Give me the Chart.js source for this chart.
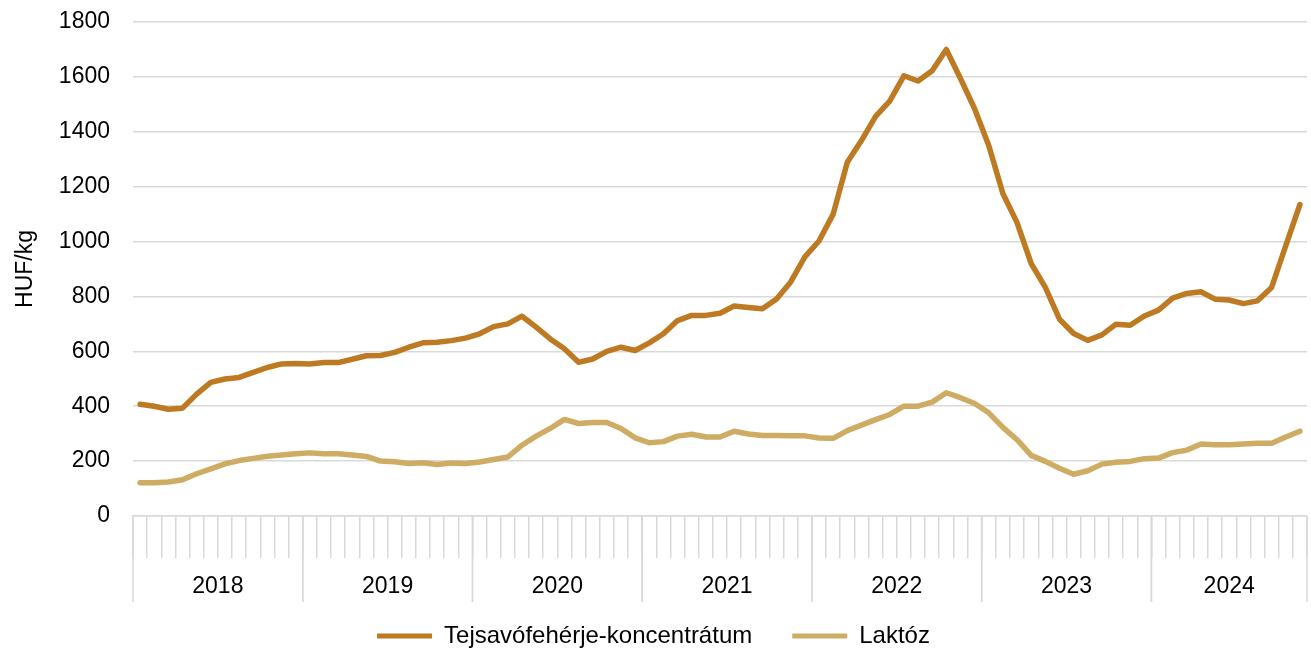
<!DOCTYPE html>
<html>
<head>
<meta charset="utf-8">
<script src="https://cdn.jsdelivr.net/npm/chart.js@4.4.1/dist/chart.umd.min.js"></script>
<style>
  html, body { margin: 0; padding: 0; background: #fff; }
  #wrap { width: 1311px; height: 648px; position: relative; }
</style>
</head>
<body>
<div id="wrap"><canvas id="priceChart"></canvas></div>
<script>
// ---- data (HUF/kg, monthly, 2018-01 .. 2024-11) ----
const years = ["2018", "2019", "2020", "2021", "2022", "2023", "2024"];

const wpc = [
  407, 400, 389, 393, 444, 487, 499, 505, 523, 541, 554, 556,
  554, 559, 559, 571, 584, 585, 596, 615, 631, 633, 639, 648,
  664, 690, 700, 728, 688, 645, 609, 560, 572, 600, 615, 603,
  631, 664, 712, 731, 731, 739, 765, 760, 755, 791, 853, 944,
  1002, 1100, 1289, 1368, 1456, 1512, 1604, 1585, 1622, 1700, 1594, 1484,
  1350, 1175, 1069, 920, 833, 717, 665, 640, 660, 699, 695, 729,
  750, 794, 811, 817, 790, 787, 774, 784, 833, 985, 1135
];

const lactose = [
  121, 121, 124, 132, 154, 172, 190, 202, 210, 218, 222, 227,
  230, 227, 227, 222, 217, 200, 198, 191, 194, 188, 193, 191,
  197, 206, 215, 258, 291, 319, 352, 337, 341, 341, 319, 285,
  267, 271, 291, 298, 288, 288, 309, 299, 293, 293, 292, 292,
  284, 283, 311, 331, 351, 370, 400, 400, 415, 449, 431, 410,
  376, 323, 278, 221, 199, 174, 152, 165, 189, 196, 199, 209,
  211, 231, 240, 262, 260, 260, 262, 265, 265, 288, 309
];

const labels = wpc.map((_, i) => years[Math.floor(i / 12)] + "." + String(i % 12 + 1).padStart(2, "0"));

const FONT = "\"Liberation Sans\", Arial, sans-serif";
const FONT_SIZE = 23;
const GRID = "#d9d9d9";

// year labels + long separators under the month ticks
const yearAxisPlugin = {
  id: "yearAxis",
  afterLayout(chart) {
    // push the legend a bit lower, its padding is also the gap between items
    const lg = chart.legend;
    if (lg) { lg.top += 10; lg.bottom += 10; }
  },
  afterDraw(chart) {
    const { ctx } = chart;
    const x = chart.scales.x;
    const half = (x.getPixelForValue(1) - x.getPixelForValue(0)) / 2;
    ctx.save();
    ctx.strokeStyle = GRID;
    ctx.lineWidth = 1.5;
    ctx.fillStyle = "#000";
    ctx.font = FONT_SIZE + "px " + FONT;
    ctx.textAlign = "center";
    ctx.textBaseline = "middle";
    years.forEach(yr => {
      const idx = labels.map((l, i) => l.startsWith(yr) ? i : -1).filter(i => i >= 0);
      const x0 = x.getPixelForValue(idx[0]) - half;
      const x1 = x.getPixelForValue(idx[idx.length - 1]) + half;
      [x0, x1].forEach(px => {
        ctx.beginPath();
        ctx.moveTo(px, x.top);
        ctx.lineTo(px, x.top + 86);
        ctx.stroke();
      });
      ctx.fillText(yr, (x0 + x1) / 2, x.top + 71);
    });
    ctx.restore();
  }
};

const ctx = document.getElementById("priceChart").getContext("2d");

new Chart(ctx, {
  type: "line",
  data: {
    labels,
    datasets: [
      {
        label: "Tejsavófehérje-koncentrátum",
        data: wpc,
        borderColor: "#be7a22",
        backgroundColor: "#be7a22",
        borderWidth: 5.5,
        pointRadius: 0,
        tension: 0,
        borderJoinStyle: "round",
        borderCapStyle: "round"
      },
      {
        label: "Laktóz",
        data: lactose,
        borderColor: "#cfac64",
        backgroundColor: "#cfac64",
        borderWidth: 5.5,
        pointRadius: 0,
        tension: 0,
        borderJoinStyle: "round",
        borderCapStyle: "round"
      }
    ]
  },
  options: {
    responsive: true,
    maintainAspectRatio: false,
    animation: false,
    layout: { padding: { top: 22, right: 4, left: 0, bottom: 0 } },
    plugins: {
      tooltip: { enabled: false },
      legend: {
        position: "bottom",
        labels: {
          color: "#000",
          font: { size: 24, family: FONT },
          boxWidth: 55,
          boxHeight: 5,
          padding: 40,
          generateLabels: chart =>
            Chart.defaults.plugins.legend.labels.generateLabels(chart).map(l => ({ ...l, lineWidth: 0 }))
        }
      }
    },
    scales: {
      x: {
        type: "category",
        offset: true,
        afterFit: scale => { scale.height = 58; },
        ticks: { display: false, autoSkip: false },
        grid: {
          offset: true,
          drawOnChartArea: false,
          drawTicks: true,
          tickLength: 42,
          color: GRID,
          lineWidth: 1.5
        },
        border: { display: true, color: GRID, width: 1.5 }
      },
      y: {
        min: 0,
        max: 1800,
        afterFit: scale => { scale.width = 133; },
        ticks: {
          stepSize: 200,
          padding: 0,
          color: "#000",
          font: { size: FONT_SIZE, family: FONT },
          callback: v => String(v)
        },
        // invisible tick marks give the gap between labels and plot
        grid: { color: GRID, lineWidth: 1.5, drawTicks: true, tickLength: 23, tickColor: "rgba(0,0,0,0)" },
        border: { display: false },
        title: {
          display: true,
          text: "HUF/kg",
          color: "#000",
          font: { size: FONT_SIZE, family: FONT },
          padding: { top: 12, bottom: 0 }
        }
      }
    }
  },
  plugins: [yearAxisPlugin]
});
</script>
</body>
</html>
